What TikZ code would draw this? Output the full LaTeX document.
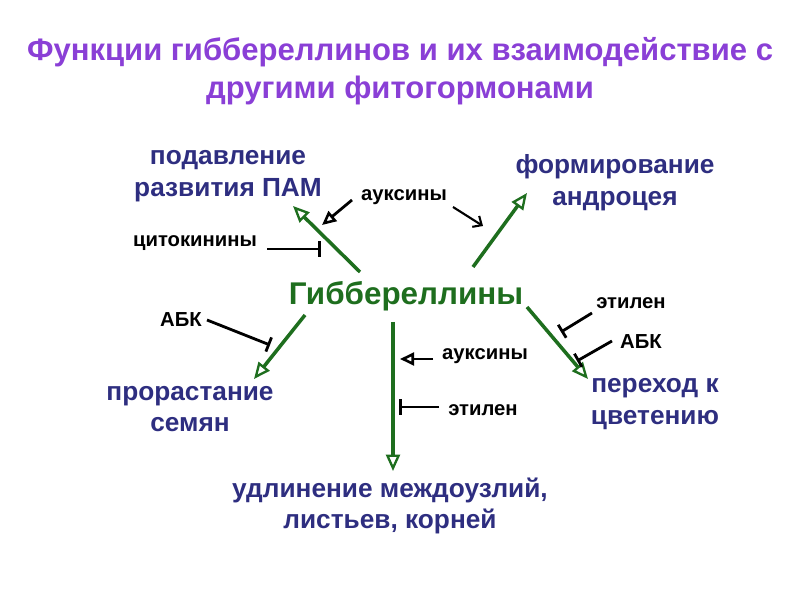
\documentclass[tikz,border=0pt]{standalone}
\usepackage{fontspec}
\setmainfont{Liberation Sans}
\usetikzlibrary{arrows.meta}
\definecolor{ttl}{HTML}{8A3FD6}
\definecolor{navy}{HTML}{2E2E80}
\definecolor{grn}{HTML}{1E6E1E}
\tikzset{
  ttlstyle/.style={font=\bfseries\fontsize{26.5}{32.5}\selectfont, text=ttl, align=center, inner sep=0},
  target/.style={font=\bfseries\fontsize{22.4}{27}\selectfont, text=navy, align=center, inner sep=0},
  hub/.style={font=\bfseries\fontsize{26.8}{30}\selectfont, text=grn, inner sep=0},
  lbl/.style={font=\bfseries\fontsize{17.3}{20}\selectfont, text=black, inner sep=0},
  garrow/.style={draw=grn, line width=3pt, -{Triangle[length=14pt, width=12pt, fill=white, line width=2pt]}},
  barrow/.style={draw=black, line width=2.4pt, -{Triangle[length=12pt, width=11pt, fill=white, line width=2.2pt]}},
  varrow/.style={draw=black, line width=1.8pt, -{Straight Barb[length=6pt, width=11pt]}},
  inhib/.style={draw=black, line width=2.4pt, -{Bar[width=13pt]}}
}
\begin{document}
\begin{tikzpicture}[x=0.03cm, y=-0.03cm]
\useasboundingbox (0,0) rectangle (800,600);
\node[ttlstyle] (title) at (400,71) {Функции гиббереллинов и их взаимодействие с\\другими фитогормонами};
\node[hub] (gib) at (406,296) {Гиббереллины};
\node[target] (pam) at (228,176) {подавление\\развития ПАМ};
\node[target] (andr) at (615,183) {формирование\\андроцея};
\node[target] (seed) at (190,409) {прорастание\\семян};
\node[target] (flow) at (655,404) {переход к\\цветению};
\node[target] (elong) at (390,506) {удлинение междоузлий,\\листьев, корней};

\coordinate (g1s) at (360,272); \coordinate (g1e) at (293,206);
\coordinate (g2s) at (473,267); \coordinate (g2e) at (527,193);
\coordinate (g3s) at (305,315); \coordinate (g3e) at (254,379);
\coordinate (g4s) at (393,322); \coordinate (g4e) at (393,471);
\coordinate (g5s) at (527,307); \coordinate (g5e) at (588,379);
\draw[garrow] (g1s) -- (g1e);
\draw[garrow] (g2s) -- (g2e);
\draw[garrow] (g3s) -- (g3e);
\draw[garrow] (g4s) -- (g4e);
\draw[garrow] (g5s) -- (g5e);

\node[lbl] (aux1) at (404,197) {ауксины};
\coordinate (a1s) at (352,200); \coordinate (a1e) at (322,225);
\draw[barrow] (a1s) -- (a1e);
\coordinate (a2s) at (453,207); \coordinate (a2e) at (483,226);
\draw[varrow] (a2s) -- (a2e);

\node[lbl] (cyto) at (195,243) {цитокинины};
\coordinate (c1s) at (267,249); \coordinate (c1e) at (321,249);
\draw[inhib] (c1s) -- (c1e);

\node[lbl] (abk1) at (181,320) {АБК};
\coordinate (b1s) at (207,320); \coordinate (b1e) at (270,345);
\draw[inhib] (b1s) -- (b1e);

\node[lbl] (aux2) at (485,356) {ауксины};
\coordinate (a3s) at (433,359); \coordinate (a3e) at (400,359);
\draw[barrow] (a3s) -- (a3e);

\node[lbl] (eth1) at (483,410) {этилен};
\coordinate (e1s) at (439,407); \coordinate (e1e) at (399,407);
\draw[inhib] (e1s) -- (e1e);

\node[lbl] (eth2) at (631,303) {этилен};
\coordinate (e2s) at (592,313); \coordinate (e2e) at (561,332);
\draw[inhib] (e2s) -- (e2e);

\node[lbl] (abk2) at (641,342) {АБК};
\coordinate (b2s) at (612,341); \coordinate (b2e) at (577,361);
\draw[inhib] (b2s) -- (b2e);
\end{tikzpicture}
\end{document}
